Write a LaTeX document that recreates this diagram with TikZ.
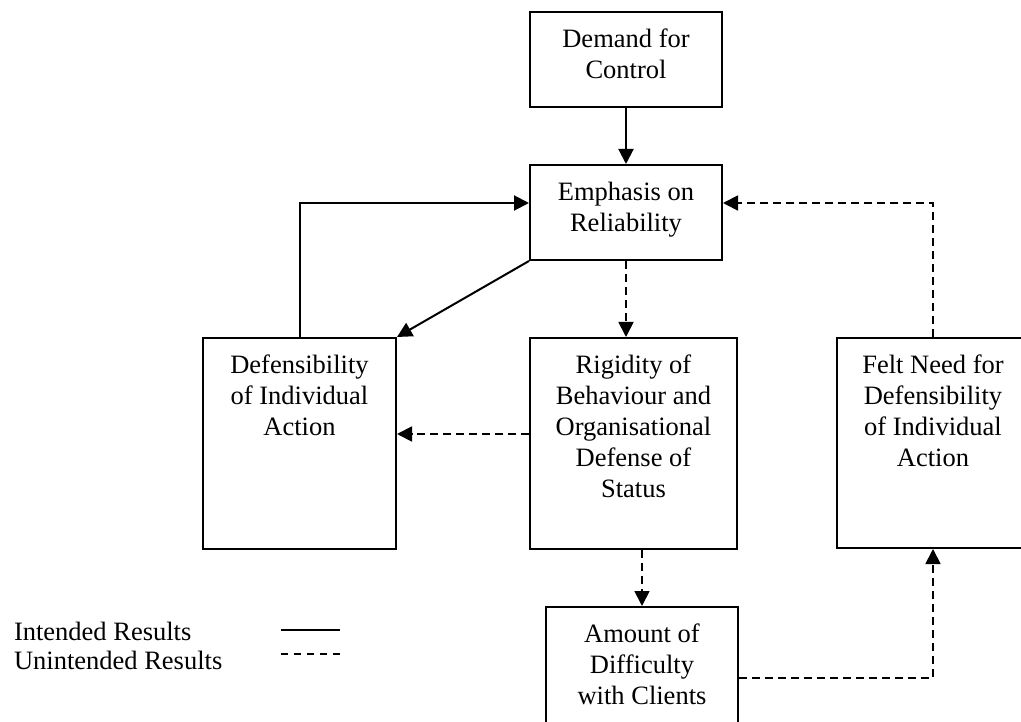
\documentclass[tikz,border=0pt]{standalone}
\usepackage{fontspec}
\setmainfont{Liberation Serif}
\usetikzlibrary{arrows.meta}

\begin{document}
\begin{tikzpicture}[x=1pt, y=-1pt, line width=2pt,
    font=\fontsize{26.5}{31}\selectfont,
    box/.style={draw, rectangle, inner sep=0pt},
    txt/.style={anchor=north, align=center, inner sep=0pt, yshift=-17pt},
    arr/.style={-{Triangle[length=15pt, width=15pt]}},
    dsh/.style={dash pattern=on 8pt off 5pt, line width=1.8pt}]
    \useasboundingbox (0,0) rectangle (1021,722);
    \clip (0,0) rectangle (1021,722);

    % ノードを描画
    \node[box, minimum width=192pt, minimum height=95pt] (demand) at (626, 59.5) {};
    \node[box, minimum width=192pt, minimum height=95pt] (emph) at (626, 212.5) {};
    \node[box, minimum width=193pt, minimum height=211pt] (defens) at (299.5, 443.5) {};
    \node[box, minimum width=207pt, minimum height=211pt] (rigid) at (633.5, 443.5) {};
    \node[box, minimum width=192pt, minimum height=210pt] (felt) at (933, 443) {};
    \node[box, minimum width=192pt, minimum height=142pt] (amount) at (642, 678) {};

    % テキストを描画
    \node[txt] (demandtxt) at (demand.north) {Demand for\\Control};
    \node[txt] (emphtxt) at (emph.north) {Emphasis on\\Reliability};
    \node[txt] (defenstxt) at (defens.north) {Defensibility\\of Individual\\Action};
    \node[txt] (rigidtxt) at (rigid.north) {Rigidity of\\Behaviour and\\Organisational\\Defense of\\Status};
    \node[txt] (felttxt) at (felt.north) {Felt Need for\\Defensibility\\of Individual\\Action};
    \node[txt] (amounttxt) at (amount.north) {Amount of\\Difficulty\\with Clients};

    % エッジを描画
    \draw[arr] (demand) -- (emph);
    \draw[arr] (defens.north) |- ([yshift=9.5pt]emph.west);
    \draw[arr] (emph.south west) -- (defens.north east);
    \draw[arr, dsh] (emph.south) -- (emph.south |- rigid.north);
    \draw[arr, dsh] ([yshift=9.5pt]rigid.west) -- ([yshift=9.5pt]defens.east);
    \draw[arr, dsh] (rigid.south -| amount.north) -- (amount.north);
    \draw[arr, dsh] (amount.east) -| (felt.south);
    \draw[arr, dsh] (felt.north) |- ([yshift=9.5pt]emph.east);

    % 凡例
    \node[anchor=base west, inner sep=0pt] (intended) at (13, 640) {Intended Results};
    \node[anchor=base west, inner sep=0pt] (unintended) at (13, 669) {Unintended Results};
    \coordinate (solidL) at (281, 630);
    \coordinate (solidR) at (340, 630);
    \coordinate (dashL) at (281, 654);
    \coordinate (dashR) at (340, 654);
    \draw (solidL) -- (solidR);
    \draw[dsh, dash pattern=on 7pt off 6pt] (dashL) -- (dashR);
\end{tikzpicture}
\end{document}
